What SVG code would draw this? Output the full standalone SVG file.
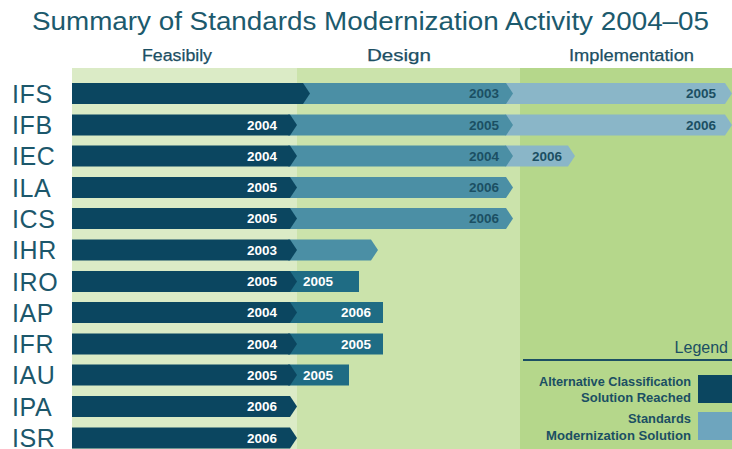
<svg xmlns="http://www.w3.org/2000/svg" width="732" height="449" viewBox="0 0 732 449">
<style>
.title{font-family:"Liberation Sans",Arial,sans-serif;font-size:25px;fill:#1c5a6d}
.hdr{font-family:"Liberation Sans",Arial,sans-serif;font-size:16px;fill:#1c4f63;stroke:#1c4f63;stroke-width:0.25px}
.lbl{font-family:"Liberation Sans",Arial,sans-serif;font-size:25px;fill:#1c576b;letter-spacing:0.6px}
.yr{font-family:"Liberation Sans",Arial,sans-serif;font-size:12.5px;font-weight:bold;text-anchor:end}
.yl{font-family:"Liberation Sans",Arial,sans-serif;font-size:12.5px;font-weight:bold;text-anchor:start}
.w{fill:#ffffff}
.d{fill:#1b4f63}
.dark{fill:#0b4660}
.des{fill:#4b8fa5}
.imp{fill:#8ab6c8}
.teal{fill:#1f6c84}
.leg{font-family:"Liberation Sans",Arial,sans-serif;font-size:12px;font-weight:bold;fill:#1b4f63;text-anchor:end}
</style>
<rect width="732" height="449" fill="#ffffff"/>
<g id="background">
<rect x="72" y="68" width="225" height="381" fill="#dbebc6"/>
<rect x="297" y="68" width="223" height="381" fill="#cbe3ab"/>
<rect x="520" y="68" width="212" height="381" fill="#b5d78b"/>
</g>
<text class="title" x="32" y="30" textLength="677" lengthAdjust="spacingAndGlyphs">Summary of Standards Modernization Activity 2004–05</text>
<g id="headers">
<text class="hdr" x="142" y="61" textLength="70" lengthAdjust="spacingAndGlyphs">Feasibily</text>
<text class="hdr" x="367" y="61" textLength="64" lengthAdjust="spacingAndGlyphs">Design</text>
<text class="hdr" x="569" y="61" textLength="125" lengthAdjust="spacingAndGlyphs">Implementation</text>
</g>

<g id="row-IFS" transform="translate(0,93.5)">
<text class="lbl" x="12" y="9">IFS</text>
<polygon class="imp" points="505,-10.5 725,-10.5 732,0 725,10.5 505,10.5"/>
<polygon class="des" points="300,-10.5 506,-10.5 513,0 506,10.5 300,10.5"/>
<polygon class="dark" points="72,-10.5 303,-10.5 310,0 303,10.5 72,10.5"/>
<text class="yr d" x="499" y="4.5" textLength="30" lengthAdjust="spacingAndGlyphs">2003</text>
<text class="yr d" x="716" y="4.5" textLength="30" lengthAdjust="spacingAndGlyphs">2005</text>
</g>
<g id="row-IFB" transform="translate(0,125)">
<text class="lbl" x="12" y="9">IFB</text>
<polygon class="imp" points="505,-10.5 725,-10.5 732,0 725,10.5 505,10.5"/>
<polygon class="des" points="288,-10.5 506,-10.5 513,0 506,10.5 288,10.5"/>
<polygon class="dark" points="72,-10.5 290,-10.5 297,0 290,10.5 72,10.5"/>
<text class="yr w" x="277" y="4.5" textLength="30" lengthAdjust="spacingAndGlyphs">2004</text>
<text class="yr d" x="499" y="4.5" textLength="30" lengthAdjust="spacingAndGlyphs">2005</text>
<text class="yr d" x="716" y="4.5" textLength="30" lengthAdjust="spacingAndGlyphs">2006</text>
</g>
<g id="row-IEC" transform="translate(0,156)">
<text class="lbl" x="12" y="9">IEC</text>
<polygon class="imp" points="505,-10.5 568,-10.5 575,0 568,10.5 505,10.5"/>
<polygon class="des" points="288,-10.5 506,-10.5 513,0 506,10.5 288,10.5"/>
<polygon class="dark" points="72,-10.5 290,-10.5 297,0 290,10.5 72,10.5"/>
<text class="yr w" x="277" y="4.5" textLength="30" lengthAdjust="spacingAndGlyphs">2004</text>
<text class="yr d" x="499" y="4.5" textLength="30" lengthAdjust="spacingAndGlyphs">2004</text>
<text class="yl d" x="532" y="4.5" textLength="30" lengthAdjust="spacingAndGlyphs">2006</text>
</g>
<g id="row-ILA" transform="translate(0,187.5)">
<text class="lbl" x="12" y="9">ILA</text>
<polygon class="des" points="288,-10.5 506,-10.5 513,0 506,10.5 288,10.5"/>
<polygon class="dark" points="72,-10.5 290,-10.5 297,0 290,10.5 72,10.5"/>
<text class="yr w" x="277" y="4.5" textLength="30" lengthAdjust="spacingAndGlyphs">2005</text>
<text class="yr d" x="499" y="4.5" textLength="30" lengthAdjust="spacingAndGlyphs">2006</text>
</g>
<g id="row-ICS" transform="translate(0,218.5)">
<text class="lbl" x="12" y="9">ICS</text>
<polygon class="des" points="288,-10.5 506,-10.5 513,0 506,10.5 288,10.5"/>
<polygon class="dark" points="72,-10.5 290,-10.5 297,0 290,10.5 72,10.5"/>
<text class="yr w" x="277" y="4.5" textLength="30" lengthAdjust="spacingAndGlyphs">2005</text>
<text class="yr d" x="499" y="4.5" textLength="30" lengthAdjust="spacingAndGlyphs">2006</text>
</g>
<g id="row-IHR" transform="translate(0,250)">
<text class="lbl" x="12" y="9">IHR</text>
<polygon class="des" points="288,-10.5 371,-10.5 378,0 371,10.5 288,10.5"/>
<polygon class="dark" points="72,-10.5 290,-10.5 297,0 290,10.5 72,10.5"/>
<text class="yr w" x="277" y="4.5" textLength="30" lengthAdjust="spacingAndGlyphs">2003</text>
</g>
<g id="row-IRO" transform="translate(0,281.5)">
<text class="lbl" x="12" y="9">IRO</text>
<rect class="teal" x="288" y="-10.5" width="71" height="21"/>
<polygon class="dark" points="72,-10.5 290,-10.5 297,0 290,10.5 72,10.5"/>
<text class="yr w" x="277" y="4.5" textLength="30" lengthAdjust="spacingAndGlyphs">2005</text>
<text class="yl w" x="303" y="4.5" textLength="30" lengthAdjust="spacingAndGlyphs">2005</text>
</g>
<g id="row-IAP" transform="translate(0,312.5)">
<text class="lbl" x="12" y="9">IAP</text>
<rect class="teal" x="288" y="-10.5" width="95" height="21"/>
<polygon class="dark" points="72,-10.5 290,-10.5 297,0 290,10.5 72,10.5"/>
<text class="yr w" x="277" y="4.5" textLength="30" lengthAdjust="spacingAndGlyphs">2004</text>
<text class="yr w" x="371" y="4.5" textLength="30" lengthAdjust="spacingAndGlyphs">2006</text>
</g>
<g id="row-IFR" transform="translate(0,344)">
<text class="lbl" x="12" y="9">IFR</text>
<rect class="teal" x="288" y="-10.5" width="95" height="21"/>
<polygon class="dark" points="72,-10.5 290,-10.5 297,0 290,10.5 72,10.5"/>
<text class="yr w" x="277" y="4.5" textLength="30" lengthAdjust="spacingAndGlyphs">2004</text>
<text class="yr w" x="371" y="4.5" textLength="30" lengthAdjust="spacingAndGlyphs">2005</text>
</g>
<g id="row-IAU" transform="translate(0,375)">
<text class="lbl" x="12" y="9">IAU</text>
<rect class="teal" x="288" y="-10.5" width="61" height="21"/>
<polygon class="dark" points="72,-10.5 290,-10.5 297,0 290,10.5 72,10.5"/>
<text class="yr w" x="277" y="4.5" textLength="30" lengthAdjust="spacingAndGlyphs">2005</text>
<text class="yl w" x="303" y="4.5" textLength="30" lengthAdjust="spacingAndGlyphs">2005</text>
</g>
<g id="row-IPA" transform="translate(0,406.5)">
<text class="lbl" x="12" y="9">IPA</text>
<polygon class="dark" points="72,-10.5 290,-10.5 297,0 290,10.5 72,10.5"/>
<text class="yr w" x="277" y="4.5" textLength="30" lengthAdjust="spacingAndGlyphs">2006</text>
</g>
<g id="row-ISR" transform="translate(0,438)">
<text class="lbl" x="12" y="8.5">ISR</text>
<polygon class="dark" points="72,-10.5 290,-10.5 297,0 290,10.5 72,10.5"/>
<text class="yr w" x="277" y="4.5" textLength="30" lengthAdjust="spacingAndGlyphs">2006</text>
</g>

<g id="legend">
<text x="728" y="353" font-family="Liberation Sans, Arial, sans-serif" font-size="16" fill="#1b4f63" text-anchor="end">Legend</text>
<line x1="523" y1="360" x2="732" y2="360" stroke="#1b4f63" stroke-width="2"/>
<rect x="698" y="375" width="34" height="28" fill="#0b4660"/>
<text class="leg" x="691" y="386" textLength="152" lengthAdjust="spacingAndGlyphs">Alternative Classification</text>
<text class="leg" x="691" y="402" textLength="110" lengthAdjust="spacingAndGlyphs">Solution Reached</text>
<rect x="698" y="412" width="34" height="28" fill="#6ea5be"/>
<text class="leg" x="691" y="423" textLength="63" lengthAdjust="spacingAndGlyphs">Standards</text>
<text class="leg" x="691" y="440" textLength="145" lengthAdjust="spacingAndGlyphs">Modernization Solution</text>
</g>
</svg>
